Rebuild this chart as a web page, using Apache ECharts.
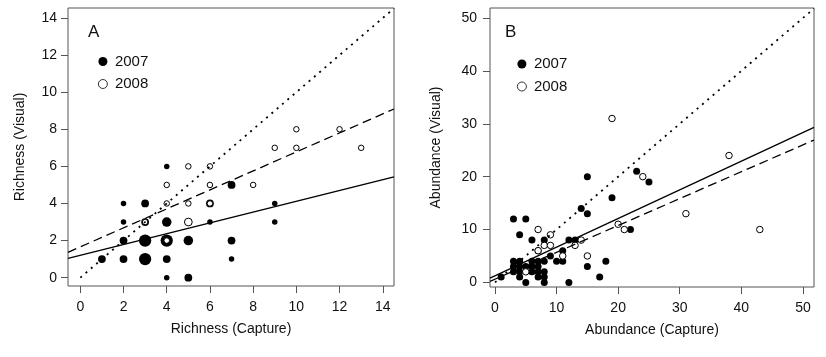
<!DOCTYPE html>
<html>
<head>
<meta charset="utf-8">
<script src="https://cdn.jsdelivr.net/npm/echarts@6/dist/echarts.min.js"></script>
<style>
html,body{margin:0;padding:0;background:#fff;}
#chart{width:826px;height:357px;}
</style>
</head>
<body>
<div id="chart"></div>
<script>
// ---------- Panel A : Richness ----------
const A_xTicks = [0, 2, 4, 6, 8, 10, 12, 14];
const A_yTicks = [0, 2, 4, 6, 8, 10, 12, 14];
const A2007_x = [1, 2, 3, 4, 7, 2, 3, 4, 5, 7, 2, 3, 4, 6, 9, 2, 3, 6, 9, 7, 4, 4, 5];
const A2007_y = [1, 1, 1, 1, 1, 2, 2, 2, 2, 2, 3, 3, 3, 3, 3, 4, 4, 4, 4, 5, 6, 0, 0];
const A2007_n = [2, 2, 5, 2, 1, 2, 5, 5, 3, 2, 1, 2, 3, 1, 1, 1, 2, 2, 1, 2, 1, 1, 2];
const A2008_x = [3, 4, 5, 4, 5, 6, 4, 6, 8, 5, 6, 9, 10, 13, 10, 12];
const A2008_y = [3, 2, 3, 4, 4, 4, 5, 5, 5, 6, 6, 7, 7, 7, 8, 8];
const A2008_n = [1, 1, 2, 1, 1, 1, 1, 1, 1, 1, 1, 1, 1, 1, 1, 1];
// regression lines: [intercept, slope]
const A_line2007 = [1.2, 0.292];   // solid
const A_line2008 = [1.66, 0.512];  // dashed
const A_oneToOne = [0, 1];         // dotted

// ---------- Panel B : Abundance ----------
const B_xTicks = [0, 10, 20, 30, 40, 50];
const B_yTicks = [0, 10, 20, 30, 40, 50];
const B2007_x = [1, 3, 3, 3, 4, 4, 4, 4, 5, 5, 6, 6, 6, 7, 7, 7, 7, 8, 8, 8, 8,
                 3, 5, 4, 6, 8, 9, 10, 11, 11, 12, 13, 12, 14, 15, 15, 15, 17, 18, 19, 22, 23, 25, 7];
const B2007_y = [1, 2, 3, 4, 1, 2, 3, 4, 3, 0, 2, 3, 4, 1, 2, 3, 4, 0, 1, 2, 4,
                 12, 12, 9, 8, 8, 5, 4, 4, 6, 8, 8, 0, 14, 13, 20, 3, 1, 4, 16, 10, 21, 19, 6];
const B2008_x = [19, 38, 24, 31, 43, 20, 21, 7, 9, 8, 9, 7, 13, 14, 15, 11, 5];
const B2008_y = [31, 24, 20, 13, 10, 11, 10, 10, 9, 7, 7, 6, 7, 8, 5, 5, 2];
const B_line2007 = [1.24, 0.542];  // solid
const B_line2008 = [0.61, 0.508];  // dashed
const B_oneToOne = [0, 1];         // dotted

const A_range = {xmin: -0.57, xmax: 14.52, ymin: -0.45, ymax: 14.54};
const B_range = {xmin: -0.81, xmax: 51.8, ymin: -0.87, ymax: 51.9};

function zip3(xs, ys, ns) { return xs.map((x, i) => [x, ys[i], ns ? ns[i] : 1]); }
function lineData(coef, x0, x1) { return [[x0, coef[0] + coef[1] * x0], [x1, coef[0] + coef[1] * x1]]; }

const FONT = "'Liberation Sans', Arial, sans-serif";
const BOX = '#555';

function makeX(idx, r, ticks, name) {
  return {
    type: 'value', gridIndex: idx, min: r.xmin, max: r.xmax,
    name: name, nameLocation: 'middle', nameGap: 36,
    nameTextStyle: {fontFamily: FONT, fontSize: 14, color: '#111'},
    axisLine: {show: false, onZero: false},
    axisTick: {show: true, inside: false, length: 7, customValues: ticks, lineStyle: {color: BOX}},
    axisLabel: {customValues: ticks, margin: 14, fontFamily: FONT, fontSize: 14, color: '#111'},
    splitLine: {show: false}
  };
}
function makeY(idx, r, ticks, name, gap, margin) {
  return {
    type: 'value', gridIndex: idx, min: r.ymin, max: r.ymax,
    name: name, nameLocation: 'middle', nameGap: gap,
    nameTextStyle: {fontFamily: FONT, fontSize: 14, color: '#111'},
    axisLine: {show: false, onZero: false},
    axisTick: {show: true, inside: false, length: 7, customValues: ticks, lineStyle: {color: BOX}},
    axisLabel: {customValues: ticks, margin: margin, fontFamily: FONT, fontSize: 14, color: '#111'},
    splitLine: {show: false}
  };
}

const sizeFn = (v) => 5.5 * Math.sqrt(v[2]);
const filled = {color: '#000', opacity: 1};
const open = {color: '#fff', borderColor: '#000', borderWidth: 1, opacity: 1};

function lineSeries(idx, data, type, width) {
  return {
    type: 'line', xAxisIndex: idx, yAxisIndex: idx, data: data,
    symbol: 'none', silent: true, z: 5, clip: true,
    lineStyle: {color: '#000', width: width, type: type}
  };
}

const legendData = [
  {name: '2007', itemStyle: {color: '#000', borderWidth: 0, opacity: 1}},
  {name: '2008', itemStyle: {color: '#fff', borderColor: '#000', borderWidth: 0.8, opacity: 1}}
];

const chart = echarts.init(document.getElementById('chart'), null, {renderer: 'canvas'});
chart.setOption({
  animation: false,
  backgroundColor: '#fff',
  title: [
    {text: 'A', left: 83, top: 19, textStyle: {fontFamily: FONT, fontSize: 17, fontWeight: 'normal', color: '#111'}},
    {text: 'B', left: 500, top: 19, textStyle: {fontFamily: FONT, fontSize: 17, fontWeight: 'normal', color: '#111'}}
  ],
  legend: [
    {orient: 'vertical', left: 93, top: 49, itemWidth: 14, itemHeight: 9, itemGap: 7.5,
     data: legendData, textStyle: {fontFamily: FONT, fontSize: 15, color: '#111'}, selectedMode: false},
    {orient: 'vertical', left: 512, top: 51.5, itemWidth: 14, itemHeight: 9, itemGap: 7.5,
     data: legendData, textStyle: {fontFamily: FONT, fontSize: 15, color: '#111'}, selectedMode: false}
  ],
  grid: [
    {left: 68, top: 8, width: 326, height: 278, show: true, borderColor: BOX, borderWidth: 1, backgroundColor: 'transparent'},
    {left: 490, top: 8, width: 324, height: 279, show: true, borderColor: BOX, borderWidth: 1, backgroundColor: 'transparent'}
  ],
  xAxis: [
    makeX(0, A_range, A_xTicks, 'Richness (Capture)'),
    makeX(1, B_range, B_xTicks, 'Abundance (Capture)')
  ],
  yAxis: [
    makeY(0, A_range, A_yTicks, 'Richness (Visual)', 41, 11),
    makeY(1, B_range, B_yTicks, 'Abundance (Visual)', 47, 13)
  ],
  series: [
    {name: '2007', type: 'scatter', xAxisIndex: 0, yAxisIndex: 0, symbol: 'circle',
     symbolSize: sizeFn, data: zip3(A2007_x, A2007_y, A2007_n), itemStyle: filled, z: 2},
    {name: '2008', type: 'scatter', xAxisIndex: 0, yAxisIndex: 0, symbol: 'circle',
     symbolSize: sizeFn, data: zip3(A2008_x, A2008_y, A2008_n), itemStyle: open, z: 3},
    lineSeries(0, lineData(A_line2007, A_range.xmin, A_range.xmax), 'solid', 1.3),
    lineSeries(0, lineData(A_line2008, A_range.xmin, A_range.xmax), [9, 5], 1.3),
    lineSeries(0, lineData(A_oneToOne, 0, A_range.xmax), [2, 5], 1.8),

    {name: '2007', type: 'scatter', xAxisIndex: 1, yAxisIndex: 1, symbol: 'circle',
     symbolSize: 7, data: zip3(B2007_x, B2007_y), itemStyle: filled, z: 2},
    {name: '2008', type: 'scatter', xAxisIndex: 1, yAxisIndex: 1, symbol: 'circle',
     symbolSize: 6.5, data: zip3(B2008_x, B2008_y), itemStyle: open, z: 3},
    lineSeries(1, lineData(B_line2007, B_range.xmin, B_range.xmax), 'solid', 1.3),
    lineSeries(1, lineData(B_line2008, B_range.xmin, B_range.xmax), [9, 5], 1.3),
    lineSeries(1, lineData(B_oneToOne, 0, B_range.xmax), [2, 5], 1.8)
  ]
});
</script>
</body>
</html>
